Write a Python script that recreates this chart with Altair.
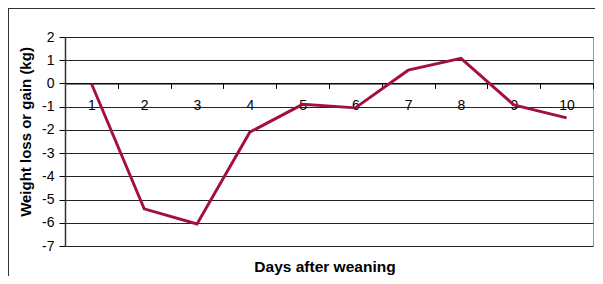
import altair as alt
import pandas as pd

days = ["1", "2", "3", "4", "5", "6", "7", "8", "9", "10"]
weight_change = [0, -5.4, -6.05, -2.1, -0.9, -1.05, 0.57, 1.08, -0.92, -1.48]
y_ticks = [-7, -6, -5, -4, -3, -2, -1, 0, 1, 2]

df = pd.DataFrame({"day": days, "value": weight_change})

FONT = "Liberation Sans, Arial, Helvetica, sans-serif"

line = alt.Chart(df).mark_line(color="#a3103c", strokeWidth=2.9).encode(
    x=alt.X(
        "day:O",
        sort=days,
        scale=alt.Scale(paddingInner=0, paddingOuter=0),
        axis=alt.Axis(
            orient="bottom",
            offset=-162.6,
            title="Days after weaning",
            titleFont=FONT,
            titleFontSize=15.5,
            titleFontWeight="bold",
            titleColor="#000",
            titleX=259.5,
            titleY=183,
            titleAlign="center",
            titleBaseline="middle",
            labelAngle=0,
            labelFont=FONT,
            labelFontSize=14,
            labelColor="#000",
            labelPadding=10,
            tickBand="extent",
            tickSize=5,
            tickColor="#000",
            domainColor="#000",
            domainWidth=1.2,
            grid=False,
        ),
    ),
    y=alt.Y(
        "value:Q",
        scale=alt.Scale(domain=[-7, 2], nice=False),
        axis=alt.Axis(
            values=y_ticks,
            labelExpr="'' + datum.value",
            title="Weight loss or gain (kg)",
            titleFont=FONT,
            titleFontSize=15,
            titleFontWeight="bold",
            titleColor="#000",
            titleAngle=-90,
            titleX=-39.7,
            titleY=94.5,
            titleAlign="center",
            titleBaseline="middle",
            labelFont=FONT,
            labelFontSize=14,
            labelColor="#000",
            labelPadding=5,
            tickSize=6,
            tickColor="#000",
            domainColor="#333",
            domainWidth=1.5,
            grid=True,
            gridColor="#222",
            gridWidth=1,
        ),
    ),
)

frame_data = alt.Data(values=[{}])
frame_top = alt.Chart(frame_data).mark_rule(color="#333", strokeWidth=1).encode(
    x=alt.value(-57), x2=alt.value(600), y=alt.value(-28.5)
)
frame_left = alt.Chart(frame_data).mark_rule(color="#333", strokeWidth=1).encode(
    x=alt.value(-56.5), y=alt.value(-29), y2=alt.value(300)
)

chart = (
    alt.layer(line, frame_top, frame_left)
    .properties(
        width=528,
        height=209,
        autosize=alt.AutoSizeParams(type="none"),
        padding={"left": 57, "top": 29, "right": 2, "bottom": 30},
        background="white",
    )
    .configure_view(stroke="#999", strokeWidth=1)
)

chart.save("out.html", embed_options={"renderer": "svg", "actions": False})
